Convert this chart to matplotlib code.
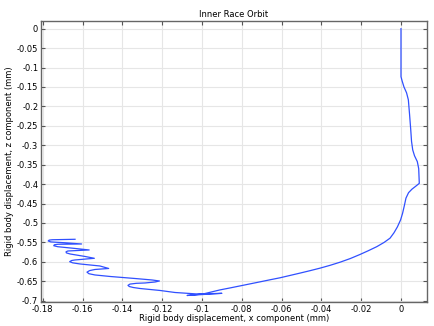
import matplotlib
matplotlib.use("Agg")
import matplotlib.pyplot as plt
import numpy as np

# orbit of the inner race (mm)
x_disp = [0.0, 0.0, 0.0, 0.0, 0.0006, 0.0015, 0.0028, 0.0037, 0.0043, 0.0049,
          0.0053, 0.0059, 0.0068, 0.0082, 0.0089, 0.0092, 0.0075, 0.0055,
          0.0038, 0.0025, 0.0017, 0.0008, -0.0002, -0.0018, -0.0035, -0.0055,
          -0.0085, -0.0122, -0.0165, -0.0206, -0.0255, -0.0307, -0.0357,
          -0.0407, -0.0458, -0.0508, -0.0558, -0.0608, -0.0659, -0.0709,
          -0.0760, -0.081, -0.0860, -0.091, -0.0994,
          -0.1075, -0.090, -0.1025, -0.1136, -0.1211, -0.1312, -0.1345, -0.1365,
          -0.1372, -0.1362, -0.1330, -0.1286, -0.1236, -0.1214, -0.1251, -0.1337,
          -0.1462, -0.1538, -0.1568, -0.1578, -0.1565, -0.1538, -0.1469,
          -0.1513, -0.1613, -0.1650, -0.1665, -0.1655, -0.1638, -0.1541,
          -0.1588, -0.1663, -0.1682, -0.1683, -0.1674, -0.1567,
          -0.1638, -0.1725, -0.1745, -0.1742, -0.1724, -0.1605,
          -0.1688, -0.1760, -0.1773, -0.1768, -0.1753, -0.1638]
z_disp = [0.0, -0.05, -0.1, -0.1235, -0.135, -0.15, -0.165, -0.183, -0.22, -0.26,
          -0.29, -0.312, -0.327, -0.342, -0.36, -0.398, -0.405, -0.413,
          -0.422, -0.436, -0.455, -0.475, -0.492, -0.51, -0.525, -0.539,
          -0.55, -0.561, -0.5715, -0.5810, -0.5915, -0.6010, -0.6090,
          -0.6162, -0.6228, -0.6290, -0.6350, -0.6410, -0.6462, -0.6515,
          -0.6568, -0.6620, -0.6672, -0.6722, -0.6826,
          -0.6865, -0.681, -0.6826, -0.6788, -0.6736, -0.6685, -0.6660, -0.6635,
          -0.6605, -0.6572, -0.6552, -0.6543, -0.6518, -0.6492, -0.6466, -0.6428,
          -0.6376, -0.6337, -0.6305, -0.6265, -0.6225, -0.6196, -0.617,
          -0.6106, -0.6054, -0.6025, -0.5995, -0.5965, -0.5951, -0.5908,
          -0.5861, -0.5797, -0.5768, -0.5740, -0.572, -0.5694,
          -0.5655, -0.5610, -0.5585, -0.5560, -0.5547, -0.554,
          -0.5509, -0.5487, -0.5462, -0.5440, -0.5431, -0.5419]

xticks = [-0.18, -0.16, -0.14, -0.12, -0.1, -0.08, -0.06, -0.04, -0.02, 0]
xtick_labels = ['-0.18', '-0.16', '-0.14', '-0.12', '-0.1', '-0.08', '-0.06', '-0.04', '-0.02', '0']
yticks = [0, -0.05, -0.1, -0.15, -0.2, -0.25, -0.3, -0.35, -0.4, -0.45, -0.5, -0.55, -0.6, -0.65, -0.7]
ytick_labels = ['0', '-0.05', '-0.1', '-0.15', '-0.2', '-0.25', '-0.3', '-0.35', '-0.4',
                '-0.45', '-0.5', '-0.55', '-0.6', '-0.65', '-0.7']

fig = plt.figure(figsize=(4.34, 3.26), dpi=100)
ax = fig.add_axes([0.0945, 0.0736, 0.8895, 0.862])

ax.plot(x_disp, z_disp, color='#3050ff', linewidth=0.9)

ax.set_xlim(-0.1809, 0.0131)
ax.set_ylim(-0.7033, 0.0198)
ax.set_xticks(xticks)
ax.set_xticklabels(xtick_labels)
ax.set_yticks(yticks)
ax.set_yticklabels(ytick_labels)
ax.tick_params(direction='in', length=3, width=0.8, labelsize=6, pad=2,
               top=True, right=True, color='#555555')
ax.grid(True, color='#e6e6e6', linewidth=0.8)
for s in ax.spines.values():
    s.set_color('#666666')
    s.set_linewidth(1.0)

ax.set_title('Inner Race Orbit', fontsize=6, pad=3)
ax.set_xlabel('Rigid body displacement, x component (mm)', fontsize=6, labelpad=0)
ax.set_ylabel('Rigid body displacement, z component (mm)', fontsize=6, labelpad=2)

fig.savefig('out.png', dpi=100)
